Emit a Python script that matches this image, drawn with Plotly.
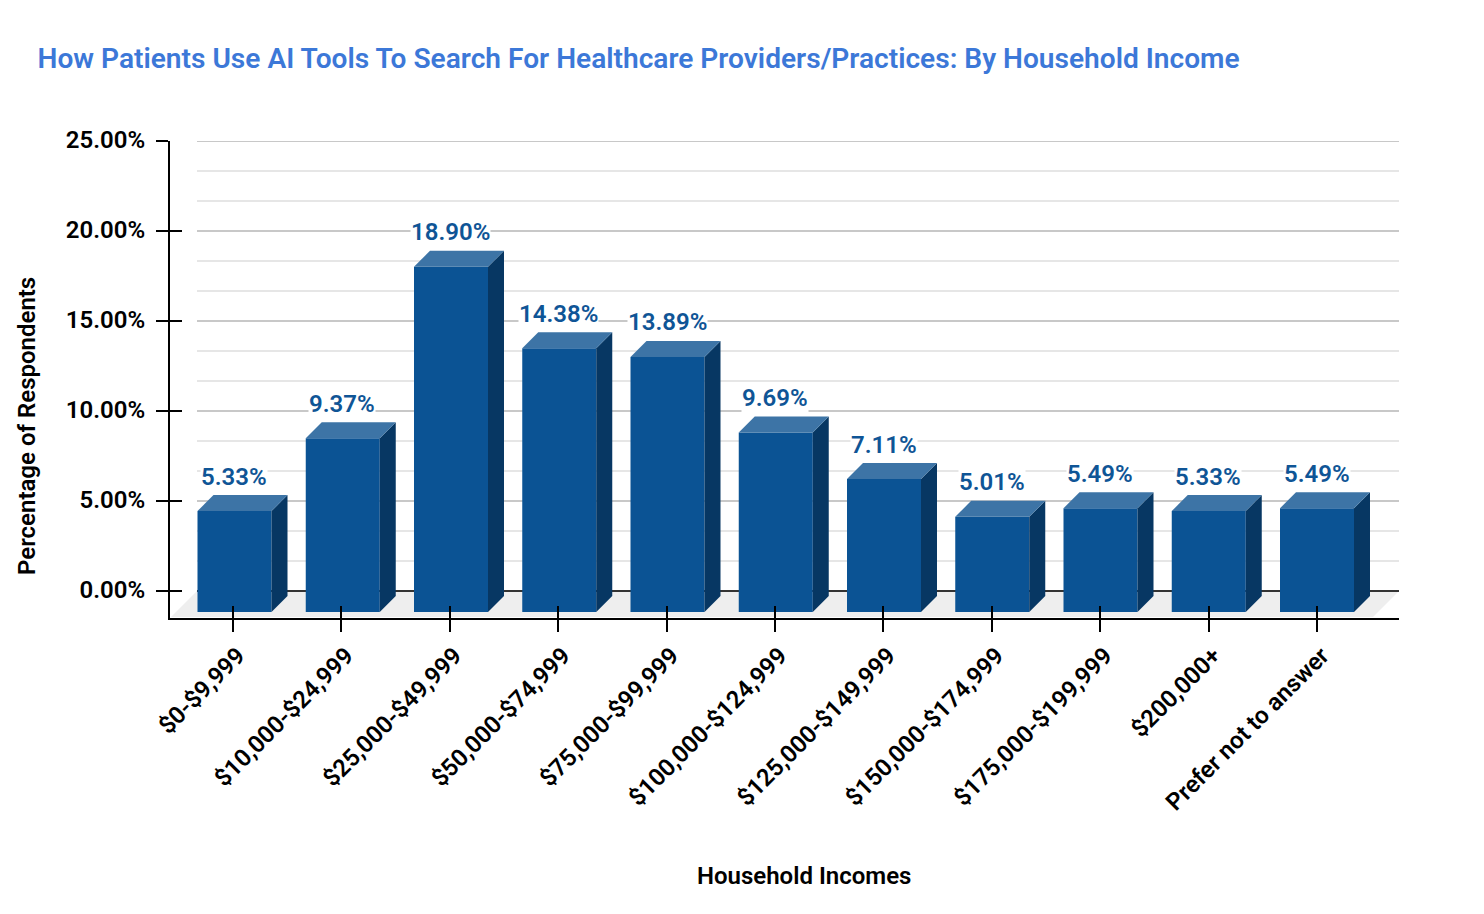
import plotly.graph_objects as go

categories = ['$0-$9,999', '$10,000-$24,999', '$25,000-$49,999', '$50,000-$74,999',
              '$75,000-$99,999', '$100,000-$124,999', '$125,000-$149,999',
              '$150,000-$174,999', '$175,000-$199,999', '$200,000+', 'Prefer not to answer']
values = [5.33, 9.37, 18.90, 14.38, 13.89, 9.69, 7.11, 5.01, 5.49, 5.33, 5.49]
major_ticks = [0, 5, 10, 15, 20, 25]
major_labels = ['0.00%', '5.00%', '10.00%', '15.00%', '20.00%', '25.00%']
minor_grid = [1.667, 3.333, 6.667, 8.333, 11.667, 13.333, 16.667, 18.333, 21.667, 23.333]

FRONT = '#0b5394'
SIDE = '#073763'
TOP = '#3d74a6'
LABEL = '#0f5596'
FONT = 'Roboto'

# the page has an 8px body margin, so everything here is 8px less than in the picture
W, H = 1468, 898
L, R, T, B = 162, 1391, 133, 610
PX_X = 108.4
PX_Y = 18.0
X0 = 225
Y0 = 583
DEPTH = 16
BAR_STEP = 108.25 / PX_X

def dx(p):
    return p / PX_X

def dy(p):
    return p / PX_Y

xs = list(range(len(categories)))
bar_xs = [i * BAR_STEP + dx(1.5) for i in xs]
xrange_ = [(L - X0) / PX_X, (R - X0) / PX_X]
yrange_ = [(Y0 - B) / PX_Y, (Y0 - T) / PX_Y]
grid_left = dx(189 - X0)
grid_right = dx(R - X0)

fig = go.Figure()

# front of the bars
bar_w = dx(74)
fig.add_trace(go.Bar(x=bar_xs,
                     y=[v - dy(DEPTH) + dy(21) for v in values],
                     base=-dy(21),
                     width=bar_w,
                     marker=dict(color=FRONT, line=dict(width=0)),
                     hoverinfo='skip',
                     showlegend=False))

# side and top faces
for c, v in zip(bar_xs, values):
    x_l = c - bar_w / 2
    x_r = c + bar_w / 2
    front_top = v - dy(DEPTH)
    fig.add_trace(go.Scatter(x=[x_r, x_r + dx(DEPTH), x_r + dx(DEPTH), x_r, x_r],
                             y=[front_top, v, -dy(5), -dy(21), front_top],
                             mode='lines', fill='toself', fillcolor=SIDE,
                             line=dict(width=0), hoverinfo='skip', showlegend=False))
    fig.add_trace(go.Scatter(x=[x_l, x_l + dx(DEPTH), x_r + dx(DEPTH), x_r, x_l],
                             y=[front_top, v, v, front_top, front_top],
                             mode='lines', fill='toself', fillcolor=TOP,
                             line=dict(width=0), hoverinfo='skip', showlegend=False))

# floor and gridlines go behind everything
shapes = [dict(type='path', layer='below', xref='x', yref='y', line=dict(width=0),
               fillcolor='#eeeeee',
               path='M %f,%f L %f,0 L %f,0 L %f,%f Z' % (dx(163 - X0), -dy(26), grid_left, grid_right,
                                                        dx(1365 - X0), -dy(26)))]
for v in minor_grid:
    shapes.append(dict(type='line', layer='below', xref='x', yref='y', x0=grid_left, x1=grid_right,
                       y0=v, y1=v, line=dict(color='#e6e6e6', width=2)))
for v in major_ticks:
    shapes.append(dict(type='line', layer='below', xref='x', yref='y', x0=grid_left, x1=grid_right,
                       y0=v, y1=v, line=dict(color='#333333' if v == 0 else '#c8c8c8', width=2)))

annotations = []
for c, v in zip(bar_xs, values):
    annotations.append(dict(x=c - dx(0.5), y=v, xref='x', yref='y', yshift=18.5,
                            text='%.2f%%' % v, showarrow=False, bgcolor='white', borderpad=0,
                            font=dict(family=FONT, size=24, color=LABEL, weight=600)))
annotations.append(dict(x=(796 - L) / (R - L), y=(B - 868) / (B - T), xref='paper', yref='paper',
                        xanchor='center', yanchor='middle', text='Household Incomes', showarrow=False,
                        font=dict(family=FONT, size=24, color='#000000', weight=600)))
annotations.append(dict(x=(19 - L) / (R - L), y=(B - 418) / (B - T), xref='paper', yref='paper',
                        xanchor='center', yanchor='middle', text='Percentage of Respondents',
                        textangle=-90, showarrow=False,
                        font=dict(family=FONT, size=24, color='#000000', weight=600)))

# invisible trace so the overlay axes exist
fig.add_trace(go.Scatter(x=[0], y=[0], xaxis='x2', yaxis='y2', mode='markers', opacity=0,
                         hoverinfo='skip', showlegend=False))

fig.update_layout(
    width=W, height=H,
    autosize=False,
    paper_bgcolor='white',
    plot_bgcolor='white',
    margin=dict(l=L, r=W - R, t=T, b=H - B, pad=0),
    showlegend=False,
    title=dict(text='How Patients Use AI Tools To Search For Healthcare Providers/Practices: By Household Income',
               x=29.5 / W, xanchor='left', xref='container', y=1 - 50 / H, yanchor='middle', yref='container',
               font=dict(family=FONT, size=28.1, color='#3c78d8', weight=600)),
    xaxis=dict(range=xrange_, tickmode='array', tickvals=xs, ticktext=categories, tickangle=-45,
               ticks='outside', ticklen=12, tickwidth=2, tickcolor='#000000', showgrid=False, zeroline=False,
               showline=True, linecolor='#000000', linewidth=2, ticklabelshift=5, ticklabelstandoff=0,
               tickfont=dict(family=FONT, size=24, color='#000000', weight=600)),
    yaxis=dict(range=yrange_, tickmode='array', tickvals=major_ticks, ticktext=major_labels,
               ticks='outside', ticklen=12, tickwidth=2, tickcolor='#000000', showgrid=False, zeroline=False,
               showline=True, linecolor='#000000', linewidth=2, ticklabelstandoff=6, ticklabelshift=-1,
               tickfont=dict(family=FONT, size=24, color='#000000', weight=600)),
    xaxis2=dict(range=xrange_, overlaying='x', tickmode='array', tickvals=xs, showticklabels=False,
                ticks='inside', ticklen=12, tickwidth=2, tickcolor='#000000', showgrid=False, zeroline=False,
                anchor='y2', side='bottom'),
    yaxis2=dict(range=yrange_, overlaying='y', tickmode='array', tickvals=major_ticks, showticklabels=False,
                ticks='inside', ticklen=12, tickwidth=2, tickcolor='#000000', showgrid=False, zeroline=False,
                anchor='x2', side='left'),
    shapes=shapes,
    annotations=annotations,
)

fig.write_html("out.html")
